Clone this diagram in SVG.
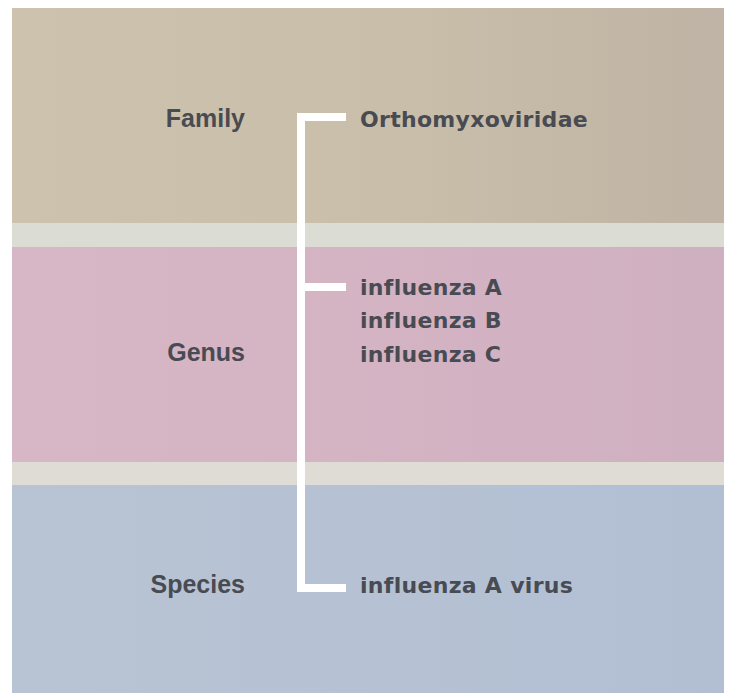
<svg xmlns="http://www.w3.org/2000/svg" width="729" height="693" viewBox="0 0 729 693">
  <defs>
    <linearGradient id="gBeige" x1="0" y1="0" x2="1" y2="0">
      <stop offset="0" stop-color="#cdc2ad"/>
      <stop offset="0.55" stop-color="#c9bea9"/>
      <stop offset="1" stop-color="#bfb4a5"/>
    </linearGradient>
    <linearGradient id="gPink" x1="0" y1="0" x2="1" y2="0">
      <stop offset="0" stop-color="#d7b6c5"/>
      <stop offset="0.5" stop-color="#d4b3c3"/>
      <stop offset="1" stop-color="#cfb0c1"/>
    </linearGradient>
    <linearGradient id="gBlue" x1="0" y1="0" x2="1" y2="0">
      <stop offset="0" stop-color="#b8c3d3"/>
      <stop offset="0.5" stop-color="#b6c2d3"/>
      <stop offset="1" stop-color="#b2bfd3"/>
    </linearGradient>
    <style>
      .rank { font-family: "Liberation Sans", Arial, sans-serif; font-weight: bold; font-size: 25px; fill: #494b53; text-anchor: end; }
      .taxon { font-family: "DejaVu Sans", Verdana, sans-serif; font-weight: bold; font-size: 22px; letter-spacing: 0.3px; fill: #494b53; }
      .conn { fill: none; stroke: #ffffff; stroke-width: 8; stroke-linejoin: miter; stroke-linecap: butt; }
    </style>
  </defs>
  <rect x="0" y="0" width="729" height="693" fill="#ffffff"/>
  <g id="bands">
    <rect x="12" y="8" width="712" height="215" fill="url(#gBeige)"/>
    <rect x="12" y="223" width="712" height="24" fill="#dbddd5"/>
    <rect x="12" y="247" width="712" height="215" fill="url(#gPink)"/>
    <rect x="12" y="462" width="712" height="23" fill="#dedcd4"/>
    <rect x="12" y="485" width="712" height="208" fill="url(#gBlue)"/>
  </g>
  <g id="connectors">
    <path class="conn" d="M346,117 H301 V588 H346"/>
    <path class="conn" d="M301,287 H346"/>
  </g>
  <g id="family">
    <text class="rank" x="245" y="127">Family</text>
    <text class="taxon" x="360" y="127">Orthomyxoviridae</text>
  </g>
  <g id="genus">
    <text class="rank" x="245" y="361">Genus</text>
    <text class="taxon" x="360" y="295">influenza A</text>
    <text class="taxon" x="360" y="328">influenza B</text>
    <text class="taxon" x="360" y="362">influenza C</text>
  </g>
  <g id="species">
    <text class="rank" x="245" y="593">Species</text>
    <text class="taxon" x="360" y="593">influenza A virus</text>
  </g>
</svg>
